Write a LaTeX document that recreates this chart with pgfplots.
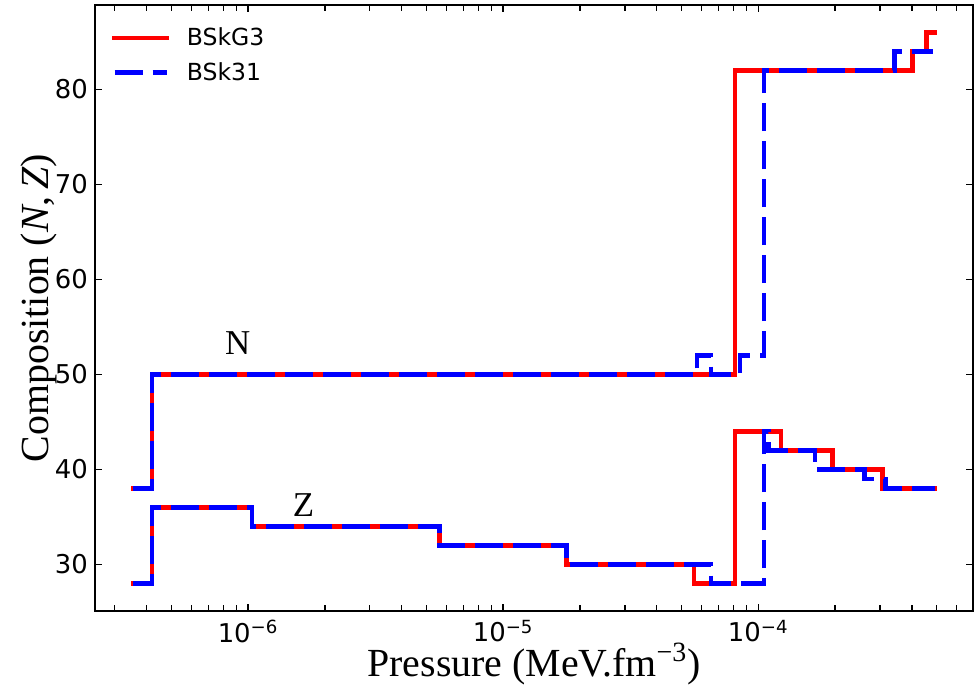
\documentclass[border=0pt]{standalone}
\usepackage{fontspec}
\setmainfont{Liberation Serif}
\newfontfamily\dejavu{DejaVu Sans}
\usepackage{pgfplots}
\pgfplotsset{compat=1.18}

\definecolor{bskred}{RGB}{255,0,0}
\definecolor{bskblue}{RGB}{0,0,255}

% Step compositions: each row holds the value from its pressure up to the next row
\pgfplotstableread{
P        N
3.54e-7  38
4.20e-7  50
8.11e-5  82
4.03e-4  84
4.57e-4  86
4.92e-4  86
}\gthreeN
\pgfplotstableread{
P        Z
3.54e-7  28
4.20e-7  36
1.034e-6 34
5.62e-6  32
1.77e-5  30
5.60e-5  28
8.11e-5  44
1.227e-4 42
1.96e-4  40
3.07e-4  38
4.92e-4  38
}\gthreeZ
\pgfplotstableread{
P        N
3.54e-7  38
4.20e-7  50
5.75e-5  52
6.52e-5  50
8.48e-5  52
1.052e-4 82
3.42e-4  84
4.85e-4  84
}\thirtyoneN
\pgfplotstableread{
P        Z
3.54e-7  28
4.20e-7  36
1.034e-6 34
5.62e-6  32
1.77e-5  30
6.52e-5  28
1.052e-4 44
1.10e-4  42
1.667e-4 40
2.61e-4  39
3.15e-4  38
4.92e-4  38
}\thirtyoneZ

\begin{document}
\begin{tikzpicture}
\path[use as bounding box] (-47.5bp,-39bp) rectangle (440bp,305.5bp);
\begin{axis}[
  at={(0,0)}, anchor=south west,
  scale only axis, width=439bp, height=303bp,
  xmode=log,
  xmin=2.51e-7, xmax=6.95e-4,
  ymin=25.1, ymax=88.9,
  xtick={1e-6,1e-5,1e-4},
  xticklabels={{10\textsuperscript{−6}},{10\textsuperscript{−5}},{10\textsuperscript{−4}}},
  minor xtick={3e-7,4e-7,5e-7,6e-7,7e-7,8e-7,9e-7,
               2e-6,3e-6,4e-6,5e-6,6e-6,7e-6,8e-6,9e-6,
               2e-5,3e-5,4e-5,5e-5,6e-5,7e-5,8e-5,9e-5,
               2e-4,3e-4,4e-4,5e-4,6e-4},
  ytick={30,40,50,60,70,80},
  minor ytick={},
  tick align=inside,
  tick pos=both,
  major tick length=3.5bp,
  minor tick length=3bp,
  every tick/.style={black, line width=0.7bp},
  axis line style={line width=0.7bp},
  /pgf/number format/assume math mode=true,
  tick label style={font=\dejavu\fontsize{13}{15}\selectfont},
  xticklabel style={inner ysep=1bp, yshift=-3.3bp},
  xlabel={Pressure (MeV.fm\textsuperscript{−3})},
  ylabel={Composition (\textit{N},\,\textit{Z})},
  label style={font=\fontsize{20}{24}\selectfont, inner sep=0.5bp},
  xlabel style={at={(axis description cs:0.5,-0.1086)}, anchor=base},
  ylabel style={at={(axis description cs:-0.0535,0.5)}, anchor=base},
  legend style={draw=none, fill=none, at={(axis description cs:0,1)},
    anchor=north west, xshift=5.5bp, yshift=-9bp,
    font=\dejavu\fontsize{11.8}{14}\selectfont, row sep=7bp,
    column sep=9bp, nodes={fill=none, inner sep=0pt}},
  legend cell align=left,
  legend image code/.code={\draw[#1] (0bp,0bp) -- (26bp,0bp);},
]
\addplot[const plot, bskred, line width=2.3bp, line cap=rect] table[x=P, y=N] {\gthreeN};
\addlegendentry{BSkG3}
\addplot[const plot, bskred, line width=2.3bp, line cap=rect, forget plot] table[x=P, y=Z] {\gthreeZ};
\addplot[const plot, bskblue, line width=2.3bp, dash pattern=on 14bp off 5bp] table[x=P, y=N] {\thirtyoneN};
\addlegendentry{BSk31}
\addplot[const plot, bskblue, line width=2.3bp, dash pattern=on 14bp off 5bp, forget plot] table[x=P, y=Z] {\thirtyoneZ};
\node[font=\fontsize{17.5}{20}\selectfont] at (axis cs:9.1e-7,53.3) {N};
\node[font=\fontsize{17.5}{20}\selectfont] at (axis cs:1.65e-6,36.2) {Z};
\end{axis}
\end{tikzpicture}
\end{document}
